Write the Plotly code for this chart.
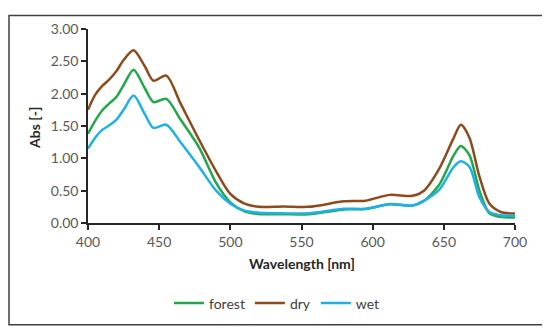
import plotly.graph_objects as go

wavelength = [400, 405, 410, 415, 420, 425, 432, 440, 446, 455, 465, 478, 490, 500, 510, 520,
              537, 555, 580, 595, 612, 628, 636, 647, 657, 662, 668, 675, 682, 690, 700]
forest = [1.38, 1.58, 1.74, 1.85, 1.95, 2.13, 2.37, 2.08, 1.87, 1.92, 1.60, 1.17, 0.62, 0.32, 0.18, 0.14,
          0.135, 0.135, 0.21, 0.215, 0.29, 0.27, 0.34, 0.60, 1.05, 1.19, 1.05, 0.50, 0.15, 0.095, 0.085]
dry = [1.75, 1.98, 2.12, 2.22, 2.35, 2.52, 2.67, 2.42, 2.20, 2.28, 1.85, 1.29, 0.80, 0.45, 0.30, 0.25,
       0.255, 0.25, 0.335, 0.345, 0.435, 0.42, 0.50, 0.85, 1.32, 1.52, 1.32, 0.72, 0.30, 0.17, 0.145]
wet = [1.15, 1.32, 1.44, 1.51, 1.60, 1.75, 1.97, 1.68, 1.47, 1.52, 1.25, 0.87, 0.50, 0.30, 0.19, 0.16,
       0.15, 0.15, 0.22, 0.22, 0.295, 0.27, 0.345, 0.52, 0.87, 0.955, 0.87, 0.40, 0.17, 0.12, 0.11]

series = [("forest", forest, "#22a84a"), ("dry", dry, "#8f4a1c"), ("wet", wet, "#1fb0e6")]

fig = go.Figure()
for name, vals, col in series:
    fig.add_trace(go.Scatter(x=wavelength, y=vals, name=name, mode="lines",
                             line=dict(color=col, width=2.5, shape="spline", smoothing=0.8)))

font_family = "Lato, 'Open Sans', sans-serif"
OFF = 8  # page body margin
W, H = 550 - OFF, 335 - OFF
L, T = 88 - OFF, 23 - OFF
R, B = W - (515 - OFF), H - (223 - OFF)
pw, ph = W - L - R, H - T - B

def px(xp):
    return (xp - OFF - L) / pw

def py(yp):
    return (H - B - (yp - OFF)) / ph

fig.update_layout(
    width=W, height=H,
    margin=dict(l=L, r=R, t=T, b=B),
    paper_bgcolor="white", plot_bgcolor="white",
    font=dict(family=font_family, size=14, color="#595959"),
    showlegend=True,
    legend=dict(orientation="h", x=px(277), y=py(306), xanchor="center", yanchor="middle",
                font=dict(size=14, color="#404040"), itemwidth=30, tracegroupgap=0),
    xaxis=dict(range=[400, 700], tickvals=[400, 450, 500, 550, 600, 650, 700],
               showgrid=False, zeroline=False, showline=True, linecolor="#262626", linewidth=1.5,
               ticks="outside", ticklen=5, tickcolor="#262626", tickwidth=1.5),
    yaxis=dict(range=[0, 3], tickvals=[0, 0.5, 1, 1.5, 2, 2.5, 3], tickformat=".2f",
               showgrid=False, zeroline=False, showline=True, linecolor="#262626", linewidth=1.5,
               ticks="outside", ticklen=5, tickcolor="#262626", tickwidth=1.5),
    annotations=[
        dict(text="<b>Wavelength [nm]</b>", xref="paper", yref="paper", x=0.5, y=py(265),
             showarrow=False, xanchor="center", yanchor="middle", font=dict(size=14, color="#262626")),
        dict(text="<b>Abs [-]</b>", xref="paper", yref="paper", x=px(35), y=py(125),
             showarrow=False, textangle=-90, xanchor="center", yanchor="middle",
             font=dict(size=14, color="#262626")),
    ],
    shapes=[dict(type="rect", xref="paper", yref="paper", x0=px(9), x1=px(543), y0=py(328), y1=py(9),
                 line=dict(color="#404040", width=1.5))],
)

fig.write_html("out.html")
